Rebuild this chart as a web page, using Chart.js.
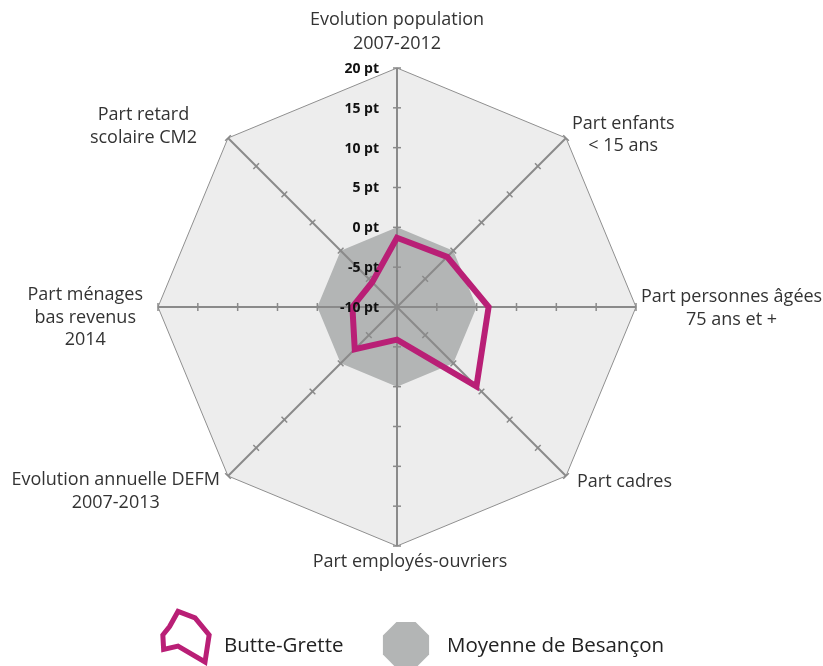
<!DOCTYPE html>
<html>
<head>
<meta charset="utf-8">
<script src="https://cdn.jsdelivr.net/npm/chart.js@4/dist/chart.umd.min.js"></script>
<style>
  body { margin: 0; background: #fff; }
  #wrap { width: 823px; height: 666px; }
</style>
</head>
<body>
<div id="wrap"><canvas id="radar" width="823" height="666"></canvas></div>
<script>
let labels = [
    ['Evolution population', '2007-2012'],
    ['Part enfants', '< 15 ans'],
    ['Part personnes âgées', '75 ans et +'],
    ['Part cadres'],
    ['Part employés-ouvriers'],
    ['Evolution annuelle DEFM', '2007-2013'],
    ['Part ménages', 'bas revenus', '2014'],
    ['Part retard', 'scolaire CM2']
]
let butte_grette = [-1.3, -1.1, 1.5, 4.1, -5.9, -2.5, -4.4, -5.6]
let moyenne_besancon = [0, 0, 0, 0, 0, 0, 0, 0]
let tick_values = [-10, -5, 0, 5, 10, 15, 20]
let series_names = ['Butte-Grette', 'Moyenne de Besançon']

const PINK = '#b91f76'
const GREY = '#b3b5b5'
const AXIS = '#8a8a8a'

// where each category label sits, relative to its outer corner
const label_layout = [
    { align: 'center', dx: 0, dy: -48, lh: 24 },
    { align: 'left', dx: 6, dy: -14, lh: 22 },
    { align: 'left', dx: 5, dy: -10, lh: 23 },
    { align: 'left', dx: 11, dy: 6, lh: 23 },
    { align: 'center', dx: 13, dy: 16, lh: 23 },
    { align: 'right', dx: -8, dy: 4, lh: 23 },
    { align: 'right', dx: -15, dy: -12, lh: 22.5 },
    { align: 'right', dx: -31, dy: -23, lh: 23 }
]

// axes + small tick marks, drawn right after the grey area so they stay visible on it
const axesPlugin = {
    id: 'axes',
    afterDatasetDraw(chart, args) {
        if (args.index !== 1) return
        const sc = chart.scales.r
        const ctx = chart.ctx
        ctx.save()
        ctx.strokeStyle = AXIS
        for (let i = 0; i < labels.length; i++) {
            const end = sc.getPointPositionForValue(i, 20)
            ctx.lineWidth = 2
            ctx.beginPath()
            ctx.moveTo(sc.xCenter, sc.yCenter)
            ctx.lineTo(end.x, end.y)
            ctx.stroke()
            const a = sc.getIndexAngle(i) - Math.PI / 2
            const px = -Math.sin(a), py = Math.cos(a)
            ctx.lineWidth = 1.5
            tick_values.slice(1).forEach(v => {
                const p = sc.getPointPositionForValue(i, v)
                ctx.beginPath()
                ctx.moveTo(p.x - px * 4, p.y - py * 4)
                ctx.lineTo(p.x + px * 4, p.y + py * 4)
                ctx.stroke()
            })
        }
        ctx.restore()
    },
    afterDraw(chart) {
        const sc = chart.scales.r
        const ctx = chart.ctx
        ctx.save()
        // tick labels
        ctx.font = 'bold 14px "Open Sans"'
        ctx.fillStyle = '#111'
        ctx.textAlign = 'right'
        ctx.textBaseline = 'middle'
        tick_values.forEach(v => {
            const p = sc.getPointPositionForValue(0, v)
            ctx.fillText(v + ' pt', sc.xCenter - 18, p.y + 1)
        })
        // category labels
        ctx.font = '18px "Open Sans"'
        ctx.fillStyle = '#333'
        ctx.textAlign = 'center'
        labels.forEach((lines, i) => {
            const lay = label_layout[i]
            const p = sc.getPointPositionForValue(i, 20)
            const w = Math.max(...lines.map(t => ctx.measureText(t).width))
            let left = p.x + lay.dx
            if (lay.align === 'right') left -= w
            if (lay.align === 'center') left -= w / 2
            lines.forEach((t, k) => ctx.fillText(t, left + w / 2, p.y + lay.dy + k * lay.lh))
        })
        // legend
        const icx = 178, icy = 635
        ctx.strokeStyle = PINK
        ctx.lineWidth = 5
        ctx.lineJoin = 'miter'
        ctx.beginPath()
        butte_grette.forEach((v, i) => {
            const a = sc.getIndexAngle(i) - Math.PI / 2
            const r = sc.getDistanceFromCenterForValue(v) * 0.34
            const x = icx + Math.cos(a) * r, y = icy + Math.sin(a) * r
            if (i === 0) ctx.moveTo(x, y); else ctx.lineTo(x, y)
        })
        ctx.closePath()
        ctx.stroke()
        ctx.fillStyle = GREY
        ctx.beginPath()
        for (let k = 0; k < 8; k++) {
            const a = Math.PI / 8 + k * Math.PI / 4
            const x = 406 + Math.cos(a) * 25, y = 645 + Math.sin(a) * 25
            if (k === 0) ctx.moveTo(x, y); else ctx.lineTo(x, y)
        }
        ctx.closePath()
        ctx.fill()
        ctx.font = '20.5px "Open Sans"'
        ctx.fillStyle = '#222'
        ctx.textAlign = 'left'
        ctx.fillText(series_names[0], 224, 646)
        ctx.fillText(series_names[1], 447, 646)
        ctx.restore()
    }
}

const ctx = document.getElementById('radar')

let chart = new Chart(ctx, {
    type: 'radar',
    data: {
        labels: labels,
        datasets: [{
            label: series_names[0],
            data: butte_grette,
            borderColor: PINK,
            borderWidth: 6,
            fill: false,
            pointRadius: 0,
            borderJoinStyle: 'miter'
        },
        {
            label: series_names[1],
            data: moyenne_besancon,
            backgroundColor: GREY,
            borderColor: GREY,
            borderWidth: 0,
            fill: 'start',
            pointRadius: 0
        }]
    },
    options: {
        responsive: false,
        animation: false,
        layout: { padding: { left: 158, right: 187, top: 68, bottom: 120 } },
        plugins: { legend: { display: false }, tooltip: { enabled: false } },
        scales: {
            r: {
                min: -10,
                max: 20,
                startAngle: 0,
                backgroundColor: '#ededed',
                angleLines: { display: false },
                grid: {
                    color: c => c.tick && c.tick.value === 20 ? '#8f8f8f' : 'transparent',
                    lineWidth: 1
                },
                ticks: { display: false, stepSize: 5 },
                pointLabels: { display: false }
            }
        }
    },
    plugins: [axesPlugin]
});
</script>
</body>
</html>
